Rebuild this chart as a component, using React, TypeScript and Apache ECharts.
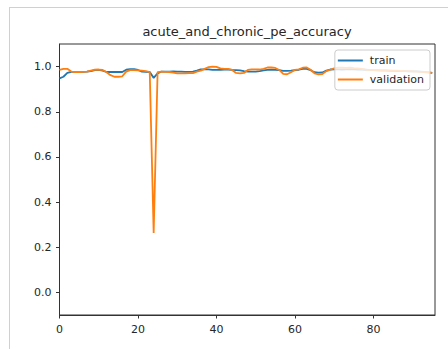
import React, { useEffect, useRef } from "react";
import * as echarts from "echarts";

const titleText = "acute_and_chronic_pe_accuracy";
const seriesNames = ["train", "validation"];
const xTicks = [0, 20, 40, 60, 80];
const yTicks = [0, 0.2, 0.4, 0.6, 0.8, 1.0];

const train = [
  0.948, 0.955, 0.972, 0.977, 0.977, 0.977, 0.977, 0.978, 0.98, 0.984,
  0.985, 0.982, 0.976, 0.976, 0.976, 0.976, 0.976, 0.986, 0.989, 0.989,
  0.985, 0.978, 0.977, 0.976, 0.95, 0.97, 0.978, 0.978, 0.978, 0.979,
  0.978, 0.978, 0.977, 0.977, 0.978, 0.982, 0.988, 0.988, 0.988, 0.985,
  0.985, 0.986, 0.987, 0.987, 0.985, 0.984, 0.983, 0.98, 0.978, 0.978,
  0.978, 0.98, 0.983, 0.985, 0.986, 0.985, 0.984, 0.981, 0.981, 0.982,
  0.984, 0.986, 0.99, 0.99, 0.984, 0.975, 0.973, 0.974, 0.982, 0.987,
  0.988, 0.988, 0.987, 0.988, 0.989, 0.988, 0.987, 0.987, 0.986, 0.985,
  0.984, 0.983, 0.982, 0.982, 0.981, 0.981, 0.98, 0.98, 0.98, 0.979,
  0.979, 0.979, 0.978, 0.976, 0.974, 0.972,
];

const validation = [
  0.985, 0.99, 0.99, 0.978, 0.976, 0.976, 0.977, 0.978, 0.982, 0.986,
  0.987, 0.985, 0.975, 0.962, 0.955, 0.955, 0.957, 0.978, 0.984, 0.984,
  0.983, 0.982, 0.98, 0.975, 0.263, 0.975, 0.978, 0.977, 0.976, 0.973,
  0.97, 0.97, 0.97, 0.971, 0.971, 0.978, 0.982, 0.99, 0.998, 1.0,
  0.999, 0.992, 0.99, 0.99, 0.985, 0.972, 0.97, 0.972, 0.985, 0.988,
  0.988, 0.987, 0.99, 0.996, 0.996, 0.994, 0.985, 0.968, 0.966, 0.975,
  0.985, 0.988, 0.995, 0.996, 0.986, 0.97, 0.966, 0.967, 0.98, 0.986,
  0.992, 0.995, 0.995, 0.994, 0.995, 0.993, 0.992, 0.99, 0.986, 0.985,
  0.984, 0.985, 0.984, 0.984, 0.983, 0.982, 0.982, 0.981, 0.98, 0.98,
  0.979, 0.978, 0.977, 0.976, 0.974, 0.972,
];

const FONT = "DejaVu Sans";

export default function App() {
  const ref = useRef<HTMLDivElement>(null);
  useEffect(() => {
    if (!ref.current) return;
    const chart = echarts.init(ref.current, null, { renderer: "svg" });
    const toPairs = (arr: number[]) => arr.map((v, i) => [i, v]);
    chart.setOption({
      animation: false,
      backgroundColor: "#ffffff",
      title: {
        text: titleText,
        left: 247,
        top: 25,
        textAlign: "center",
        padding: 0,
        textStyle: { fontFamily: FONT, fontSize: 13, fontWeight: "normal", color: "#262626" },
      },
      grid: {
        left: 59.5,
        right: 13,
        top: 44,
        bottom: 34,
        show: true,
        borderColor: "#333",
        borderWidth: 1,
        backgroundColor: "transparent",
        containLabel: false,
      },
      legend: {
        data: seriesNames,
        orient: "vertical",
        right: 18,
        top: 50,
        padding: [4, 6, 4, 3],
        itemGap: 6,
        itemWidth: 25,
        itemHeight: 2,
        icon: "rect",
        backgroundColor: "rgba(255,255,255,0.8)",
        borderColor: "#cccccc",
        borderWidth: 1,
        borderRadius: 3,
        textStyle: { fontFamily: FONT, fontSize: 11, lineHeight: 13, color: "#262626", padding: [0, 0, 0, 2] },
      },
      xAxis: {
        type: "value",
        min: 0,
        max: 95.7,
        axisLine: { show: true, onZero: false, lineStyle: { color: "#333", width: 1 } },
        axisTick: { show: true, inside: false, length: 3.5, customValues: xTicks, lineStyle: { color: "#333" } },
        axisLabel: {
          customValues: xTicks,
          margin: 9,
          fontFamily: FONT,
          fontSize: 11,
          color: "#262626",
        },
        splitLine: { show: false },
      },
      yAxis: {
        type: "value",
        min: -0.1,
        max: 1.1,
        axisLine: { show: true, onZero: false, lineStyle: { color: "#333", width: 1 } },
        axisTick: { show: true, inside: false, length: 3.5, customValues: yTicks, lineStyle: { color: "#333" } },
        axisLabel: {
          customValues: yTicks,
          margin: 8,
          fontFamily: FONT,
          fontSize: 11,
          color: "#262626",
          formatter: (v: number) => v.toFixed(1),
        },
        splitLine: { show: false },
      },
      series: [
        {
          name: seriesNames[0],
          type: "line",
          data: toPairs(train),
          showSymbol: false,
          symbol: "none",
          lineStyle: { color: "#1f77b4", width: 1.8 },
          itemStyle: { color: "#1f77b4" },
          z: 2,
        },
        {
          name: seriesNames[1],
          type: "line",
          data: toPairs(validation),
          showSymbol: false,
          symbol: "none",
          lineStyle: { color: "#ff7f0e", width: 1.8 },
          itemStyle: { color: "#ff7f0e" },
          z: 3,
        },
      ],
      graphic: [
        {
          type: "line",
          shape: { x1: 9.5, y1: 7, x2: 9.5, y2: 349 },
          style: { stroke: "#d0d0d0", lineWidth: 1 },
          silent: true,
        },
        {
          type: "line",
          shape: { x1: 9, y1: 7.5, x2: 448, y2: 7.5 },
          style: { stroke: "#d0d0d0", lineWidth: 1 },
          silent: true,
        },
      ],
    });
    return () => chart.dispose();
  }, []);
  return (
    <div
      ref={ref}
      style={{ position: "fixed", left: 0, top: 0, width: 448, height: 349, background: "#fff" }}
    />
  );
}
